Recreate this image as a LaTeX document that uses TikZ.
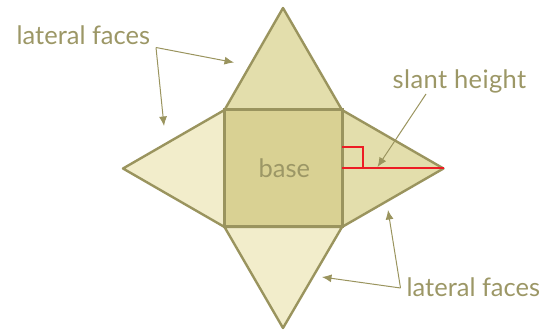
\documentclass[tikz,border=0pt]{standalone}
\usepackage{fontspec}
\setmainfont{Lato}
\usetikzlibrary{arrows.meta}
\definecolor{edgeC}{HTML}{9A945E}
\definecolor{textC}{HTML}{9C9766}
\definecolor{midC}{HTML}{E3DEAC}
\definecolor{paleC}{HTML}{F2EDCB}
\definecolor{baseC}{HTML}{D9D193}
\definecolor{redC}{HTML}{ED1C24}
\tikzset{
  face/.style={draw=edgeC,line width=2.4pt,line join=round},
  basebox/.style={draw=edgeC,line width=3pt,line join=miter,fill=baseC},
  lab/.style={text=textC,font=\fontsize{25.5}{30}\selectfont,inner sep=0pt,anchor=base west},
  pointer/.style={draw=edgeC,line width=1pt,-{Latex[length=9.5pt,width=8pt]}},
  redline/.style={draw=redC,line width=2pt}
}
\begin{document}
\begin{tikzpicture}[x=1pt,y=-1pt]
\useasboundingbox (0,0) rectangle (557,331);
\coordinate (tl) at (224.5,110);
\coordinate (tr) at (342,110);
\coordinate (bl) at (224.5,227);
\coordinate (br) at (342,227);
\coordinate (top) at (283,8);
\coordinate (left) at (123,168.5);
\coordinate (right) at (443.5,168.5);
\coordinate (bottom) at (283,328);
\draw[face,fill=midC] (tl) -- (top) -- (tr) -- cycle;
\draw[face,fill=midC] (tr) -- (right) -- (br) -- cycle;
\draw[face,fill=paleC] (tl) -- (left) -- (bl) -- cycle;
\draw[face,fill=paleC] (bl) -- (bottom) -- (br) -- cycle;
\draw[basebox] (tl) rectangle (br);
\coordinate (hl) at (342,168.5);
\coordinate (sq1) at (342,147);
\coordinate (sq2) at (363,147);
\coordinate (sq3) at (363,168.5);
\draw[redline] (hl) -- (right);
\draw[redline] (sq1) -- (sq2) -- (sq3);
\node[lab] (base) at (258.5,177.5) {base};
\node[lab] (lf1) at (16.5,45) {lateral faces};
\node[lab] (sh) at (392.5,89) {\addfontfeature{LetterSpace=1.5}slant height};
\node[lab] (lf2) at (406.5,296.7) {lateral faces};
\coordinate (c1) at (156,47.5);
\coordinate (a1) at (234,62.5);
\coordinate (a2) at (164,126);
\draw[pointer] (c1) -- (a1);
\draw[pointer] (c1) -- (a2);
\coordinate (c2) at (426,94);
\coordinate (a3) at (377.5,167);
\draw[pointer] (c2) -- (a3);
\coordinate (c3) at (400.5,288);
\coordinate (a4) at (388,210);
\coordinate (a5) at (322,277);
\draw[pointer] (c3) -- (a4);
\draw[pointer] (c3) -- (a5);
\end{tikzpicture}
\end{document}
